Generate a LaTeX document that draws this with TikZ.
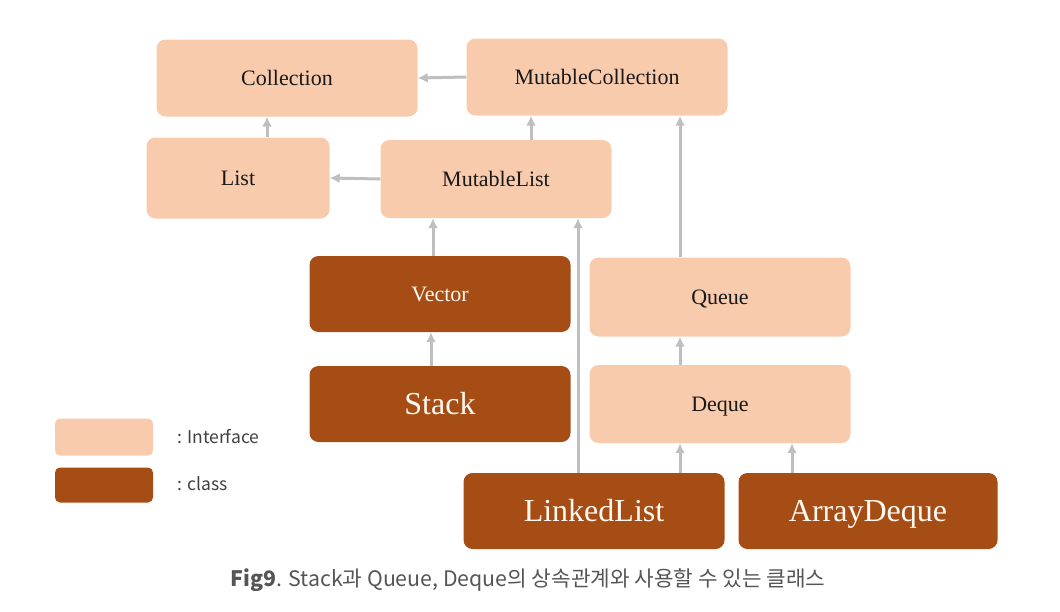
\documentclass[tikz,border=0pt]{standalone}
\usepackage{fontspec}
\usepackage{tikz}
\usetikzlibrary{arrows.meta}
\setmainfont{Liberation Serif}
\newfontfamily\krfont{Noto Sans CJK KR}
\definecolor{ifacefill}{HTML}{F8CBAD}
\definecolor{classfill}{HTML}{A64D15}
\definecolor{arrowgray}{HTML}{BFBFBF}
\definecolor{captiongray}{HTML}{555555}

\begin{document}
\begin{tikzpicture}[
  x=1pt, y=-1pt,
  box/.style={rounded corners=9pt, inner sep=0pt, minimum width=261pt, minimum height=77pt,
    text height=14.5pt, text depth=0pt},
  iface/.style={box, fill=ifacefill, text=black!90, font=\fontsize{22}{26}\selectfont},
  cls/.style={box, fill=classfill, text=white!95!orange, font=\fontsize{22}{26}\selectfont},
  bigcls/.style={cls, text height=21pt, font=\fontsize{32}{38}\selectfont},
  legend/.style={rounded corners=5pt, minimum width=98pt, minimum height=37pt, inner sep=0pt},
  legtext/.style={anchor=west, inner sep=0pt, font=\krfont\fontsize{17.5}{21}\selectfont, text=black!75},
  inh/.style={-{Latex[length=10pt, width=10pt]}, arrowgray, line width=3pt}
]
\useasboundingbox (0,0) rectangle (1060,611);
% ---- Interfaces ----
\node[iface] (coll) at (287,78) {Collection};
\node[iface] (mcoll) at (597,77) {MutableCollection};
\node[iface, minimum width=183pt, minimum height=81pt] (list) at (238,178) {List};
\node[iface, minimum width=231pt, minimum height=78pt] (mlist) at (496,179) {MutableList};
\node[iface, minimum height=79pt] (queue) at (720,297) {Queue};
\node[iface, minimum height=78pt] (deque) at (720,404) {Deque};
% ---- Classes ----
\node[cls, minimum height=76pt] (vector) at (440,294) {Vector};
\node[bigcls, minimum height=76pt] (stack) at (440,404) {Stack};
\node[bigcls, minimum height=76pt] (llist) at (594,511) {LinkedList};
\node[bigcls, minimum width=259pt, minimum height=76pt] (adeque) at (868,511) {ArrayDeque};
% ---- Legend ----
\node[legend, fill=ifacefill] (legi) at (104,437) {};
\node[legend, fill=classfill, minimum height=35pt] (legc) at (104,485) {};
\node[legtext] (legitext) at (177,437) {: Interface};
\node[legtext] (legctext) at (177,484) {: class};
% ---- Caption ----
\node[font=\krfont\fontsize{21.3}{25}\selectfont, text=captiongray] (caption) at (528,580)
  {\textbf{Fig9}. Stack과 Queue, Deque의 상속관계와 사용할 수 있는 클래스};
% ---- Inheritance arrows (child to parent) ----
\draw[inh] (mcoll.west) -- (coll.east);
\draw[inh] (list.north -| 267,0) -- (coll.south -| 267,0);
\draw[inh] (mlist.west) -- (list.east);
\draw[inh] (mlist.north -| 531,0) -- (mcoll.south -| 531,0);
\draw[inh] (vector.north -| 433,0) -- (mlist.south -| 433,0);
\draw[inh] (llist.north -| 578,0) -- (mlist.south -| 578,0);
\draw[inh] (queue.north -| 680,0) -- (mcoll.south -| 680,0);
\draw[inh] (stack.north -| 431,0) -- (vector.south -| 431,0);
\draw[inh] (deque.north -| 680,0) -- (queue.south -| 680,0);
\draw[inh] (llist.north -| 680,0) -- (deque.south -| 680,0);
\draw[inh] (adeque.north -| 792,0) -- (deque.south -| 792,0);
\end{tikzpicture}
\end{document}
